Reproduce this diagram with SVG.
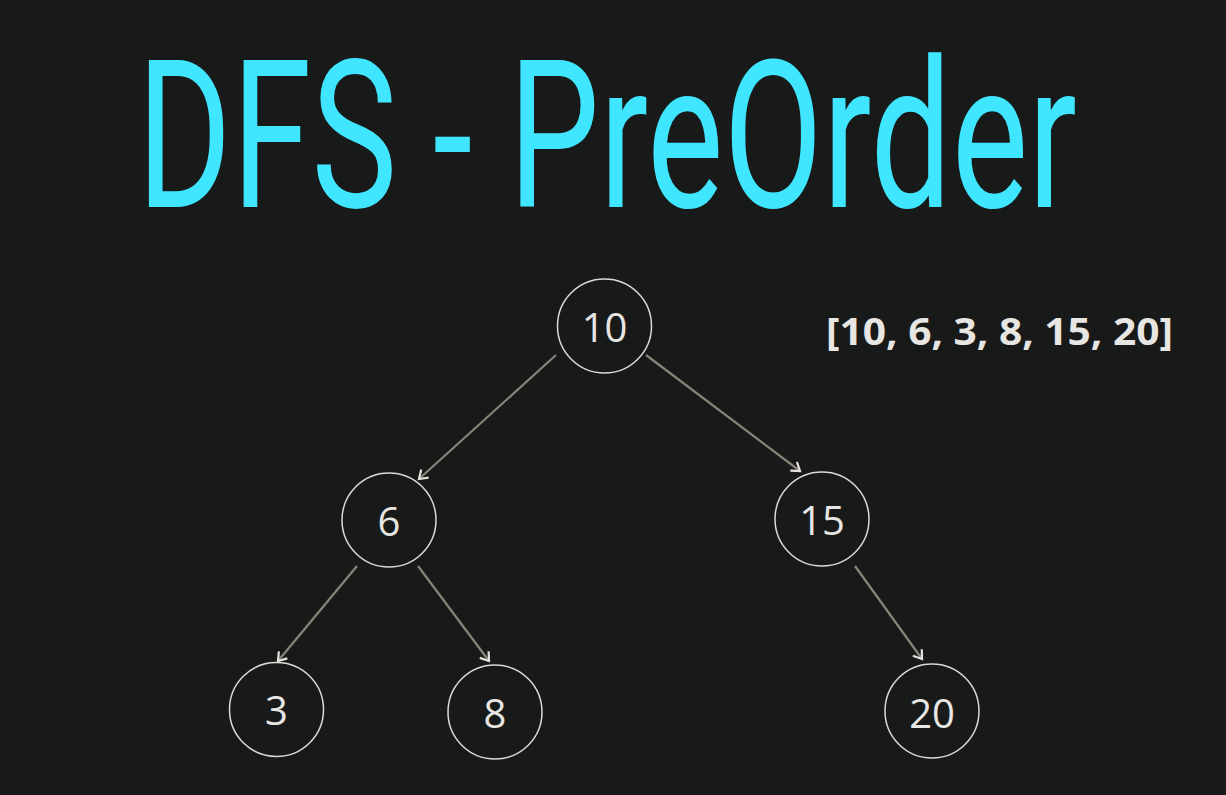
<svg xmlns="http://www.w3.org/2000/svg" width="1226" height="795" viewBox="0 0 1226 795">
<defs>
<marker id="arr" viewBox="0 0 14 14" refX="11" refY="7" markerWidth="14" markerHeight="14" markerUnits="userSpaceOnUse" orient="auto">
<path d="M3,1.5 L11,7 L3,12.5" fill="none" stroke="#e6e3de" stroke-width="2.2"/>
</marker>
<style>
.node circle{fill:#181a1a;stroke:#dcdad6;stroke-width:1.5}
.node text{font-family:"Open Sans","Noto Sans",sans-serif;font-size:40px;fill:#e8e6e3;text-anchor:middle}
.edge{stroke:#8a8378;stroke-width:2.2;fill:none;marker-end:url(#arr)}
</style>
</defs>
<rect width="1226" height="795" fill="#181a1a"/>
<text x="137" y="207" textLength="940" lengthAdjust="spacingAndGlyphs" font-family="Roboto, sans-serif" font-weight="400" font-size="206" fill="#40e6ff">DFS - PreOrder</text>
<text x="826" y="345" textLength="347" lengthAdjust="spacingAndGlyphs" font-family="'Open Sans','Noto Sans',sans-serif" font-weight="bold" font-size="38" fill="#e8e6e3">[10, 6, 3, 8, 15, 20]</text>
<g id="connectors">
<line class="edge" x1="556" y1="355" x2="419" y2="479"/>
<line class="edge" x1="646" y1="355" x2="800" y2="471"/>
<line class="edge" x1="357" y1="566" x2="278" y2="661"/>
<line class="edge" x1="418" y1="566" x2="489" y2="661"/>
<line class="edge" x1="855" y1="566" x2="922" y2="659"/>
</g>
<g id="n10" class="node"><circle cx="604.5" cy="326" r="47"/><text x="604.5" y="342">10</text></g>
<g id="n6" class="node"><circle cx="389" cy="520" r="47"/><text x="389" y="536">6</text></g>
<g id="n15" class="node"><circle cx="822" cy="519" r="47"/><text x="822" y="535">15</text></g>
<g id="n3" class="node"><circle cx="276.5" cy="709.5" r="47"/><text x="276.5" y="725">3</text></g>
<g id="n8" class="node"><circle cx="495" cy="712" r="47"/><text x="495" y="728">8</text></g>
<g id="n20" class="node"><circle cx="932" cy="711" r="47"/><text x="932" y="728">20</text></g>
</svg>
